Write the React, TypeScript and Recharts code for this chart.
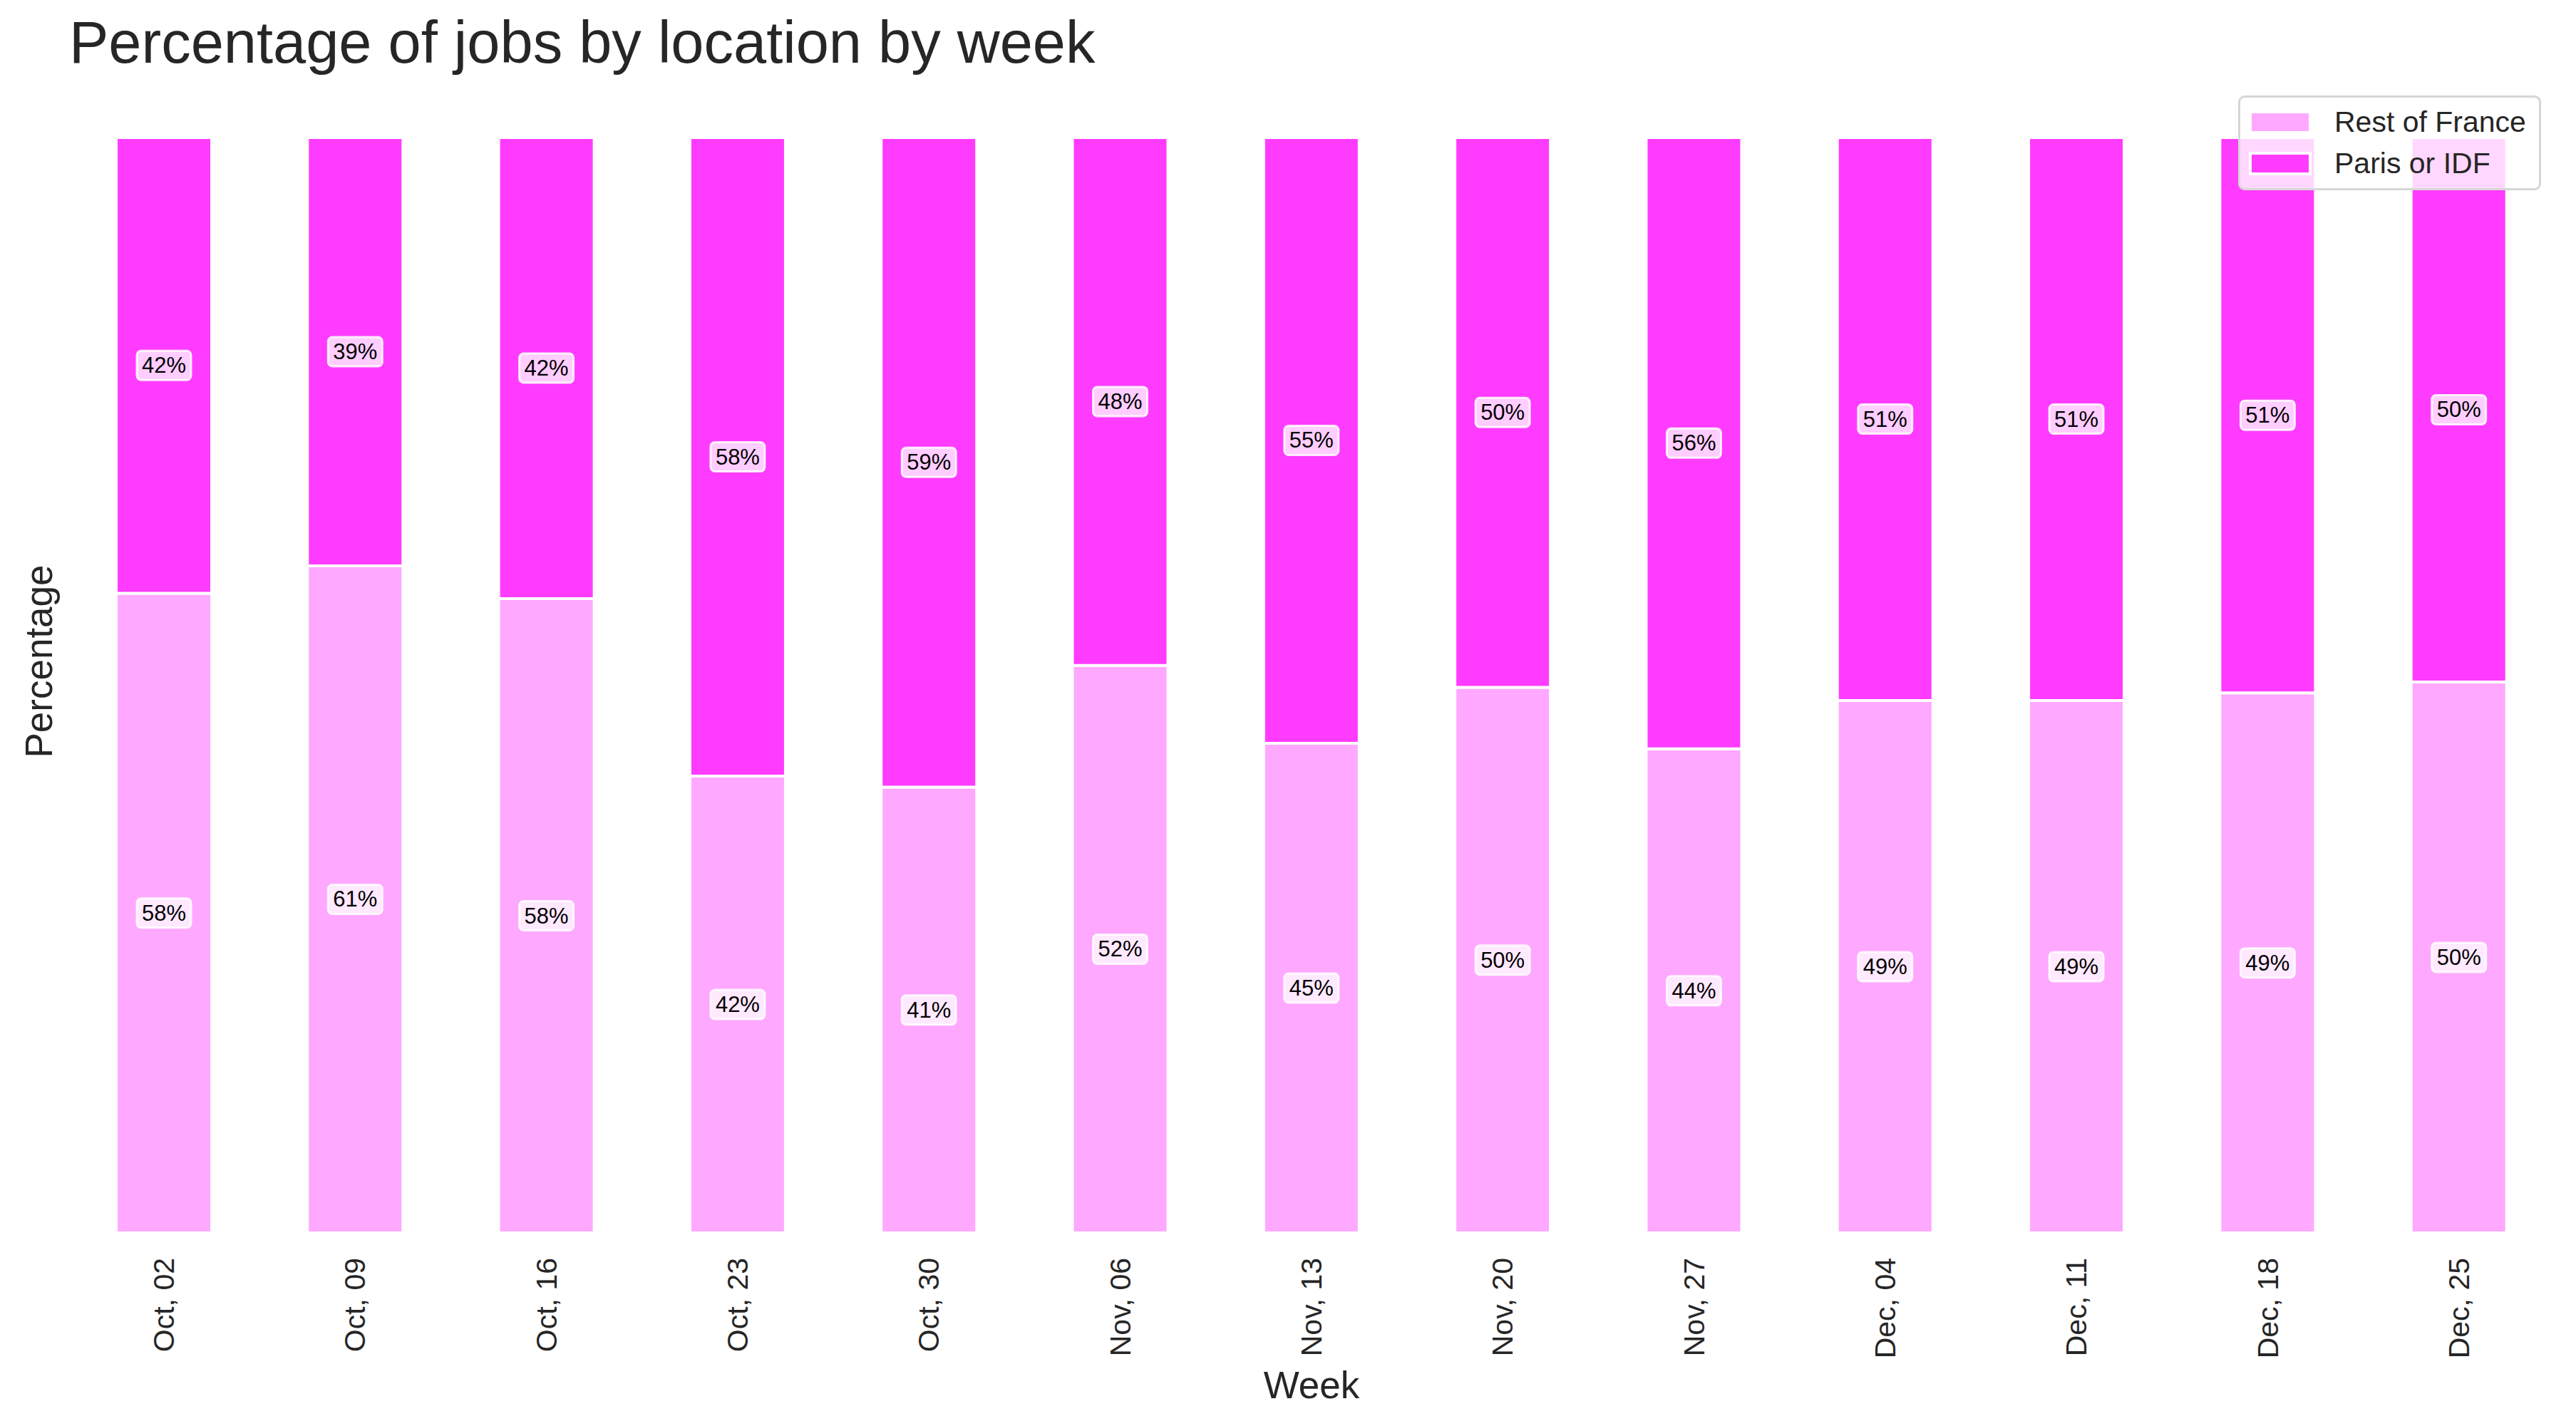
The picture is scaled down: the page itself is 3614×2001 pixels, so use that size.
import React from "react";
import { BarChart, Bar, XAxis, YAxis, LabelList } from "recharts";

const weeks = [
  "Oct, 02", "Oct, 09", "Oct, 16", "Oct, 23", "Oct, 30", "Nov, 06", "Nov, 13",
  "Nov, 20", "Nov, 27", "Dec, 04", "Dec, 11", "Dec, 18", "Dec, 25",
];
const restOfFrance = [0.584, 0.609, 0.579, 0.417, 0.407, 0.518, 0.447, 0.498, 0.442, 0.486, 0.486, 0.493, 0.503];
const parisIdf = [0.416, 0.391, 0.421, 0.583, 0.593, 0.482, 0.553, 0.502, 0.558, 0.514, 0.514, 0.507, 0.497];

const seriesNames = ["Rest of France", "Paris or IDF"];
const seriesColors = ["#ffa8ff", "#ff3bff"];

const data = weeks.map((w, i) => ({ week: w, rest: restOfFrance[i], paris: parisIdf[i] }));

const FONT = "'Liberation Sans', Arial, sans-serif";
const INK = "#262626";

const W = 3614;
const H = 2001;

function PctLabel(props: any) {
  const { x, y, width, height, value } = props;
  const cx = x + width / 2;
  const cy = y + height / 2;
  const bw = 76;
  const bh = 41;
  return (
    <g>
      <rect x={cx - bw / 2} y={cy - bh / 2} width={bw} height={bh} rx={6} ry={6}
        fill="#ffffff" fillOpacity={0.75} stroke="#ffffff" strokeOpacity={0.85} strokeWidth={3} />
      <text x={cx} y={cy} textAnchor="middle" dominantBaseline="central"
        fontFamily={FONT} fontSize={31} fill="#000">
        {Math.round(value * 100) + "%"}
      </text>
    </g>
  );
}

function WeekTick(props: any) {
  const { x, payload } = props;
  const ty = 1765;
  return (
    <text x={x} y={ty} transform={`rotate(-90, ${x}, ${ty})`} textAnchor="end"
      dominantBaseline="central" fontFamily={FONT} fontSize={41} fill={INK}>
      {payload.value}
    </text>
  );
}

// legend drawn over the chart, like matplotlib's framealpha box
function LegendBox() {
  return (
    <div style={{
      position: "absolute", left: 3140, top: 134,
      width: 425, height: 133, boxSizing: "border-box", border: "3px solid #d6d6d6",
      borderRadius: 9, background: "rgba(255,255,255,0.8)", fontFamily: FONT,
      fontSize: 41, color: INK,
    }}>
      {seriesNames.map((n, i) => (
        <div key={n} style={{ position: "absolute", left: 16, top: 12 + i * 58, height: 44, display: "flex", alignItems: "center", whiteSpace: "nowrap" }}>
          <div style={{ width: 80, height: 25, background: seriesColors[i], outline: "4px solid #fff", marginRight: 36 }} />
          <span style={{ lineHeight: "44px" }}>{n}</span>
        </div>
      ))}
    </div>
  );
}

export default function App() {
  return (
    <div style={{ position: "absolute", left: 0, top: 0, width: W, height: H, background: "#fff" }}>
      <BarChart width={W} height={H} data={data} margin={{ top: 193, right: 30, bottom: 0, left: 96 }}>
        <XAxis dataKey="week" axisLine={false} tickLine={false} height={271} interval={0} tick={<WeekTick />} />
        <YAxis hide domain={[0, 1]} />
        <Bar dataKey="rest" name={seriesNames[0]} stackId="a" fill={seriesColors[0]} stroke="#ffffff"
          strokeWidth={4} barSize={134} isAnimationActive={false}>
          <LabelList dataKey="rest" content={<PctLabel />} />
        </Bar>
        <Bar dataKey="paris" name={seriesNames[1]} stackId="a" fill={seriesColors[1]} stroke="#ffffff"
          strokeWidth={4} barSize={134} isAnimationActive={false}>
          <LabelList dataKey="paris" content={<PctLabel />} />
        </Bar>
      </BarChart>
      <svg width={W} height={H} style={{ position: "absolute", left: 0, top: 0, pointerEvents: "none" }}>
        <text x={97} y={88} fontFamily={FONT} fontSize={83} fill={INK}>Percentage of jobs by location by week</text>
        <text x={1840} y={1962} textAnchor="middle" fontFamily={FONT} fontSize={53} fill={INK}>Week</text>
        <text x={73} y={928} transform="rotate(-90, 73, 928)" textAnchor="middle" fontFamily={FONT} fontSize={53} fill={INK}>Percentage</text>
      </svg>
      <LegendBox />
    </div>
  );
}
